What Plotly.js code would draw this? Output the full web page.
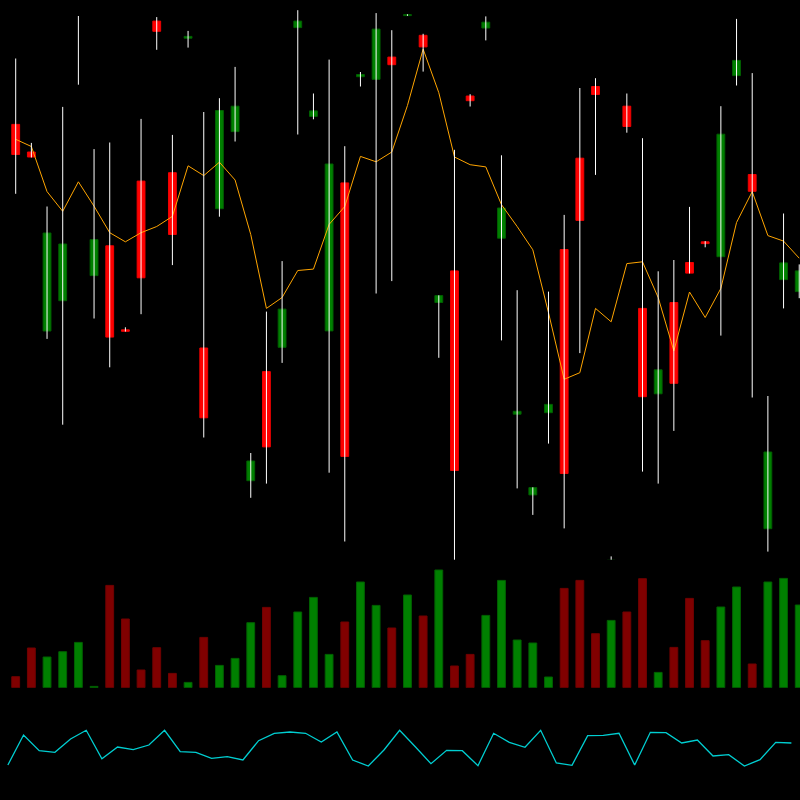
<!DOCTYPE html>
<html>
<head>
<meta charset="utf-8">
<script src="https://cdn.plot.ly/plotly-3.0.1.min.js"></script>
<style>html,body{margin:0;padding:0;background:#000;}#chart{width:800px;height:800px;}</style>
</head>
<body>
<div id="chart"></div>
<script>
// ---- data ----
var openP  = [47.56,44.8,26.9,29.93,55,32.44,35.42,27.02,41.89,57.89,42.73,56.18,25.2,39.13,46.84,11.93,22.84,25.27,57.24,48.36,26.91,41.71,52.33,52.07,54.29,58.44,56.47,29.75,32.91,50.4,57.2,36.18,18.58,10.51,18.73,35.05,44.18,51.35,3.88,49.38,29.16,20.62,29.75,33.75,35.82,34.33,52.44,42.55,7.13,32.04,30.84];
var closeP = [44.55,44.3,36.7,35.6,55,36.04,26.29,26.87,32.22,56.87,36.55,56.36,18.22,48.95,49.38,13.9,15.31,29.09,57.89,48.91,43.6,14.36,52.55,57.09,53.53,58.54,55.31,30.44,12.95,49.93,57.78,39.2,18.87,11.24,19.56,12.65,37.96,50.55,3.98,47.35,20.33,23.02,21.67,32.69,35.64,46.58,53.96,40.87,14.8,33.71,32.91];
var highP  = [54.15,45.71,39.35,49.31,58.4,45.09,45.75,27.27,48.11,58.29,46.51,56.91,48.8,50.18,53.31,14.7,28.84,33.89,58.98,50.65,54.04,45.38,52.8,58.69,56.98,58.57,56.62,30.47,45.02,50.58,58.36,44.47,30.98,11.27,30.84,38.51,51.2,52.18,4.36,50.65,46.18,32.87,34,39.31,35.89,49.38,58.11,52.69,20.4,38.65,33.56];
var lowP   = [40.62,44.25,26.11,17.53,51.53,28.15,23.27,26.84,28.58,55.02,33.49,55.24,16.25,38.33,45.85,10.22,11.64,23.71,46.55,48.07,12.73,5.85,51.35,30.65,31.89,58.42,52.84,24.22,3.64,49.35,55.96,25.96,11.16,8.51,15.64,7.16,24.69,42.51,3.64,46.73,12.84,11.64,16.91,32.65,35.27,26.44,51.45,20.25,4.84,29.16,30.18];
var maLine = [46.07,45.35,40.84,38.87,41.82,39.38,36.73,35.82,36.73,37.35,38.36,43.42,42.44,43.78,42.0,36.55,29.16,30.25,32.95,33.09,37.56,39.35,44.36,43.82,44.8,49.45,55.09,50.73,44.3,43.53,43.31,39.53,37.35,35.02,28.73,22.07,22.73,29.16,27.82,33.64,33.82,30.25,24.91,30.8,28.25,31.16,37.75,40.84,36.44,35.89,34.18];
var volume = [110,397,307,360,453,13,1023,687,177,400,143,53,503,223,293,650,803,120,757,903,333,657,1057,823,597,927,717,1177,217,333,723,1073,477,447,107,993,1073,540,673,757,1090,153,403,893,470,807,1007,237,1057,1093,827];
var oscillator = [35,65,49.3,47.7,61,69.7,41.3,53,50.3,55,69.7,48.3,47.7,41.7,43.3,40,59.3,66.7,68,66.7,58,68,40,34,50,69.7,53.3,36.3,49.7,49.3,34.3,66.7,57.7,52.7,69.7,37,34.7,64.3,64.7,66.7,35,67.7,67.3,57,60,44,45.3,34,40.3,57.7,57];

// ---- derived ----
var n = openP.length;
var idx = [], oscX = [], wickX = [], wickY = [], bodyBase = [], bodyH = [], bodyCol = [], bodyLine = [], bodyLineW = [], volCol = [], volLine = [];
for (var i = 0; i < n; i++) {
  idx.push(i);
  oscX.push(i - 0.5);
  wickX.push(i, i, null);
  wickY.push(lowP[i], highP[i], null);
  var up = closeP[i] >= openP[i];
  var h = Math.abs(closeP[i] - openP[i]);
  bodyBase.push(Math.min(openP[i], closeP[i]));
  bodyH.push(h);
  bodyCol.push(up ? '#008000' : '#ff0000');
  bodyLine.push(up ? '#006000' : '#ee0000');
  bodyLineW.push(h > 0 ? 1 : 0);
  volCol.push(up ? '#008000' : '#800000');
  volLine.push(up ? '#006000' : '#700000');
}

var traces = [
  {type:'scatter', mode:'lines', x: idx, y: maLine, line:{color:'#ffa500', width:1}, hoverinfo:'skip', xaxis:'x', yaxis:'y'},
  {type:'scatter', mode:'lines', x: wickX, y: wickY, line:{color:'#ffffff', width:1}, connectgaps:false, hoverinfo:'skip', xaxis:'x', yaxis:'y'},
  {type:'bar', x: idx, y: bodyH, base: bodyBase, width: 0.5, marker:{color: bodyCol, line:{color: bodyLine, width: bodyLineW}}, hoverinfo:'skip', xaxis:'x', yaxis:'y'},
  {type:'bar', x: idx, y: volume, width: 0.5, marker:{color: volCol, line:{color: volLine, width:1}}, hoverinfo:'skip', xaxis:'x', yaxis:'y2'},
  {type:'scatter', mode:'lines', x: oscX, y: oscillator, line:{color:'#00ced1', width:1.3}, hoverinfo:'skip', xaxis:'x', yaxis:'y3'}
];

var hid = {visible:false, showgrid:false, zeroline:false, fixedrange:true};
var layout = {
  width:800, height:800,
  margin:{l:0, r:0, t:0, b:0, pad:0},
  paper_bgcolor:'#000000', plot_bgcolor:'#000000',
  showlegend:false, barmode:'overlay',
  xaxis: Object.assign({range:[-1.002, 50.05]}, hid),
  yaxis: Object.assign({domain:[0,1], range:[-20, 60]}, hid),
  yaxis2: Object.assign({domain:[0.140375, 0.300375], range:[0, 1280], anchor:'x'}, hid),
  yaxis3: Object.assign({domain:[0, 0.125], range:[0, 100], anchor:'x'}, hid)
};

Plotly.newPlot('chart', traces, layout, {displayModeBar:false, staticPlot:true});
</script>
</body>
</html>
